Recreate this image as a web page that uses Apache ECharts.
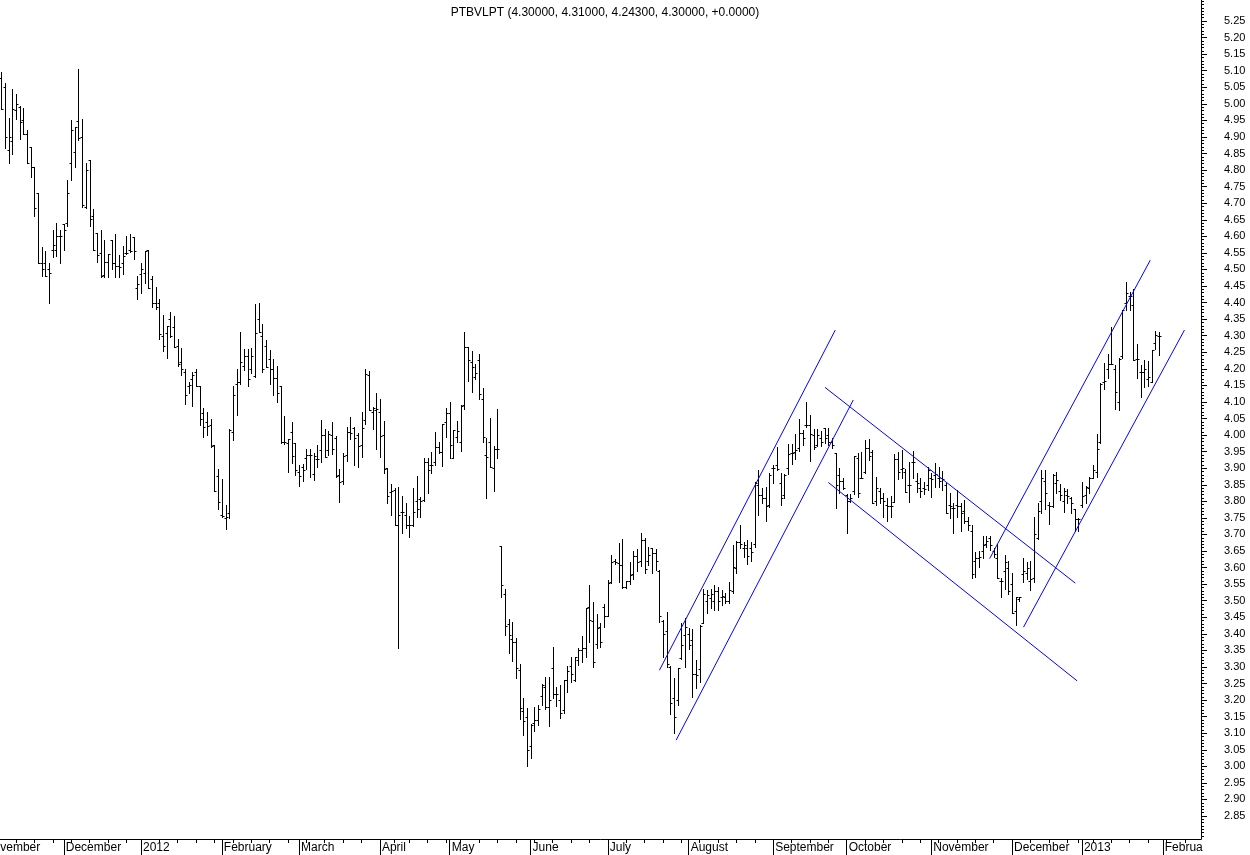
<!DOCTYPE html>
<html><head><meta charset="utf-8">
<script src="https://cdn.jsdelivr.net/npm/echarts@6.0.0/dist/echarts.min.js"></script>
<style>html,body{margin:0;padding:0;background:#fff}#c{width:1250px;height:855px}</style>
</head><body><div id="c"></div>
<script>
const chartTitle = 'PTBVLPT (4.30000, 4.31000, 4.24300, 4.30000, +0.0000)';
const firstDate = '2011-11-08';
const holidays = ['2011-12-26','2012-04-06','2012-04-09','2012-05-01','2012-12-25','2012-12-26','2013-01-01'];
const monthNames = ['January','February','March','April','May','June','July','August','September','October','November','December'];

const opens = [
5.077,5.05,4.86,4.888,4.98,4.99,4.95,4.91,4.87,4.81,
4.73,4.52,4.52,4.50,4.56,4.56,4.60,4.637,4.64,4.82,
4.855,4.948,4.90,4.69,4.83,4.66,4.61,4.55,4.483,4.523,
4.589,4.52,4.51,4.52,4.55,4.56,4.597,4.443,4.485,4.49,
4.56,4.47,4.40,4.40,4.30,4.307,4.35,4.325,4.27,4.22,
4.19,4.148,4.168,4.19,4.148,4.066,4.04,4.03,3.97,3.877,
3.76,3.75,3.766,4.01,4.155,4.16,4.21,4.24,4.20,4.178,
4.35,4.30,4.27,4.229,4.20,4.173,4.149,3.98,3.975,4.008,
3.975,3.89,3.905,3.93,3.94,3.881,3.928,3.955,4.0,3.955,
4.0,3.99,3.88,3.86,3.94,4.01,4.02,4.0,3.97,4.047,
4.18,4.07,4.076,4.07,4.0,3.9,3.827,3.834,3.73,3.767,
3.76,3.728,3.73,3.801,3.807,3.804,3.92,3.91,3.92,3.965,
3.95,4.04,4.066,3.93,3.995,3.978,4.09,4.267,4.22,4.175,
4.226,4.11,3.94,3.98,3.9,3.957,3.665,3.52,3.43,3.384,
3.374,3.29,3.168,3.15,3.06,3.13,3.14,3.212,3.24,3.18,
3.296,3.217,3.2,3.17,3.26,3.304,3.26,3.32,3.35,3.356,
3.48,3.44,3.37,3.42,3.48,3.454,3.555,3.62,3.615,3.608,
3.54,3.56,3.58,3.636,3.62,3.683,3.62,3.658,3.645,3.59,
3.44,3.41,3.30,3.205,3.2,3.326,3.395,3.40,3.38,3.28,
3.294,3.432,3.50,3.507,3.50,3.529,3.51,3.51,3.50,3.53,
3.60,3.678,3.66,3.66,3.66,3.67,3.85,3.82,3.81,3.79,
3.90,3.91,3.856,3.82,3.90,3.945,3.95,3.96,4.005,4.03,
4.03,4.0,3.97,3.99,4.02,4.0,3.98,3.945,3.88,3.86,
3.82,3.80,3.83,3.93,3.87,3.89,3.96,3.95,3.80,3.83,
3.81,3.79,3.785,3.799,3.927,3.898,3.89,3.85,3.92,3.86,
3.84,3.84,3.85,3.87,3.88,3.87,3.87,3.85,3.79,3.78,
3.79,3.787,3.77,3.74,3.71,3.62,3.63,3.65,3.67,3.69,
3.65,3.63,3.56,3.59,3.6,3.55,3.47,3.505,3.58,3.585,
3.56,3.568,3.69,3.80,3.86,3.79,3.785,3.855,3.83,3.80,
3.82,3.81,3.776,3.748,3.79,3.82,3.84,3.87,3.89,3.978,
4.16,4.2,4.216,4.2,4.1,4.24,4.40,4.42,4.392,4.23,
4.19,4.19,4.17,4.16,4.279,4.30];

const highs = [
5.097,5.064,4.956,5.044,5.03,4.993,4.987,4.92,4.87,4.81,
4.73,4.568,4.555,4.52,4.62,4.64,4.62,4.637,4.77,4.95,
4.93,5.105,4.953,4.82,4.83,4.683,4.61,4.62,4.59,4.547,
4.589,4.607,4.544,4.57,4.60,4.607,4.597,4.479,4.518,4.557,
4.56,4.48,4.446,4.41,4.363,4.33,4.373,4.36,4.29,4.262,
4.199,4.16,4.19,4.199,4.148,4.081,4.07,4.05,3.97,3.897,
3.868,3.79,4.018,4.149,4.20,4.31,4.26,4.26,4.262,4.396,
4.40,4.335,4.287,4.257,4.23,4.207,4.149,4.059,3.988,4.039,
3.975,3.91,3.912,3.957,3.957,3.945,3.97,4.045,4.017,4.012,
4.038,3.997,3.897,3.945,4.025,4.055,4.025,4.005,4.07,4.2,
4.194,4.086,4.126,4.109,4.042,3.9,3.851,3.839,3.844,3.816,
3.794,3.756,3.839,3.876,3.814,3.93,3.93,3.948,4.008,3.98,
4.033,4.083,4.099,4.015,4.042,4.092,4.31,4.267,4.254,4.216,
4.244,4.141,3.99,4.053,3.967,4.08,3.665,3.534,3.445,3.435,
3.386,3.309,3.205,3.175,3.127,3.18,3.185,3.25,3.271,3.271,
3.361,3.24,3.247,3.262,3.304,3.331,3.331,3.356,3.393,3.477,
3.547,3.495,3.46,3.434,3.489,3.563,3.638,3.627,3.673,3.686,
3.56,3.618,3.65,3.656,3.703,3.688,3.661,3.658,3.655,3.593,
3.442,3.465,3.303,3.266,3.296,3.432,3.447,3.417,3.414,3.321,
3.427,3.534,3.532,3.534,3.547,3.542,3.532,3.522,3.557,3.668,
3.681,3.73,3.678,3.683,3.676,3.859,3.894,3.839,3.842,3.884,
3.91,3.965,3.884,3.881,3.972,3.972,4.003,4.048,4.015,4.099,
4.06,4.017,4.017,4.012,4.022,4.022,3.99,3.947,3.90,3.869,
3.821,3.821,3.938,3.945,3.95,3.985,3.987,3.955,3.872,3.839,
3.824,3.811,3.817,3.943,3.95,3.955,3.898,3.92,3.952,3.886,
3.869,3.857,3.905,3.884,3.915,3.905,3.892,3.854,3.826,3.794,
3.834,3.794,3.804,3.754,3.728,3.648,3.65,3.696,3.696,3.696,
3.658,3.671,3.568,3.638,3.62,3.585,3.512,3.512,3.63,3.618,
3.621,3.754,3.794,3.894,3.894,3.799,3.882,3.889,3.851,3.839,
3.836,3.814,3.776,3.749,3.857,3.846,3.874,3.909,4.003,4.158,
4.218,4.246,4.325,4.213,4.234,4.379,4.461,4.433,4.441,4.274,
4.211,4.228,4.223,4.258,4.315,4.31];

const lows = [
4.983,4.866,4.822,4.85,4.955,4.893,4.91,4.82,4.78,4.66,
4.52,4.48,4.48,4.40,4.538,4.54,4.52,4.56,4.632,4.77,
4.81,4.89,4.69,4.686,4.63,4.56,4.523,4.478,4.478,4.478,
4.50,4.478,4.478,4.485,4.546,4.554,4.532,4.41,4.43,4.46,
4.443,4.386,4.38,4.29,4.255,4.232,4.295,4.265,4.21,4.18,
4.093,4.126,4.089,4.148,4.03,3.993,4.0,3.965,3.83,3.776,
3.752,3.716,3.749,3.985,4.06,4.154,4.195,4.149,4.186,4.176,
4.31,4.19,4.205,4.154,4.12,4.101,3.977,3.973,3.89,3.915,
3.878,3.847,3.862,3.899,3.873,3.864,3.903,3.918,3.933,3.94,
3.943,3.872,3.797,3.851,3.923,3.987,3.91,3.905,3.935,4.033,
4.076,4.018,3.959,3.935,3.884,3.794,3.759,3.73,3.358,3.703,
3.718,3.691,3.727,3.752,3.754,3.80,3.824,3.886,3.91,3.947,
3.908,3.995,3.932,3.93,3.978,3.953,4.08,4.164,4.13,4.169,
4.11,3.98,3.81,3.904,3.832,3.93,3.51,3.396,3.341,3.319,
3.268,3.142,3.095,3.001,3.024,3.108,3.125,3.185,3.173,3.123,
3.205,3.183,3.145,3.16,3.223,3.255,3.257,3.306,3.316,3.331,
3.376,3.299,3.356,3.359,3.42,3.454,3.553,3.61,3.555,3.537,
3.537,3.55,3.565,3.591,3.605,3.583,3.608,3.583,3.593,3.437,
3.331,3.301,3.158,3.10,3.185,3.323,3.299,3.353,3.208,3.236,
3.256,3.432,3.462,3.477,3.472,3.472,3.487,3.492,3.494,3.522,
3.585,3.66,3.633,3.611,3.621,3.663,3.759,3.794,3.742,3.784,
3.854,3.895,3.789,3.809,3.882,3.913,3.928,3.953,3.97,4.023,
3.923,3.957,3.967,3.968,3.975,3.97,3.96,3.779,3.824,3.836,
3.703,3.799,3.822,3.814,3.869,3.885,3.925,3.794,3.789,3.794,
3.754,3.741,3.754,3.798,3.866,3.869,3.827,3.799,3.869,3.829,
3.814,3.822,3.834,3.812,3.844,3.844,3.834,3.766,3.751,3.705,
3.754,3.711,3.736,3.713,3.57,3.573,3.603,3.628,3.663,3.653,
3.633,3.568,3.512,3.534,3.52,3.464,3.427,3.499,3.557,3.565,
3.532,3.555,3.685,3.764,3.776,3.733,3.782,3.824,3.804,3.769,
3.794,3.766,3.71,3.711,3.782,3.794,3.826,3.869,3.874,3.975,
4.138,4.171,4.216,4.08,4.077,4.233,4.377,4.379,4.228,4.171,
4.116,4.146,4.148,4.161,4.26,4.243];

const closes = [
4.983,4.90,4.90,4.983,5.00,4.945,4.91,4.82,4.81,4.686,
4.52,4.50,4.48,4.49,4.575,4.60,4.60,4.62,4.73,4.92,
4.93,4.898,4.694,4.80,4.652,4.56,4.543,4.48,4.523,4.546,
4.52,4.51,4.506,4.54,4.55,4.557,4.556,4.457,4.50,4.557,
4.443,4.40,4.388,4.305,4.27,4.33,4.30,4.267,4.215,4.20,
4.121,4.15,4.18,4.148,4.048,4.025,4.028,3.968,3.83,3.799,
3.757,3.754,4.016,4.121,4.16,4.22,4.24,4.168,4.24,4.307,
4.31,4.20,4.205,4.20,4.173,4.126,3.98,3.98,3.988,3.937,
3.895,3.877,3.895,3.94,3.94,3.937,3.928,4.0,3.935,4.002,
3.957,3.876,3.857,3.938,4.008,4.005,3.99,3.968,4.02,4.184,
4.076,4.083,4.078,3.997,3.897,3.816,3.831,3.73,3.759,3.767,
3.728,3.728,3.767,3.776,3.80,3.918,3.895,3.91,3.965,3.948,
4.033,4.066,3.97,4.015,4.013,4.088,4.267,4.226,4.204,4.188,
4.124,3.995,3.935,3.904,3.957,3.957,3.547,3.424,3.396,3.374,
3.296,3.177,3.137,3.05,3.125,3.14,3.173,3.245,3.18,3.2,
3.217,3.217,3.16,3.262,3.288,3.28,3.33,3.351,3.356,3.477,
3.442,3.314,3.417,3.374,3.454,3.553,3.618,3.616,3.608,3.54,
3.56,3.578,3.636,3.618,3.683,3.597,3.638,3.643,3.62,3.454,
3.399,3.31,3.19,3.15,3.296,3.366,3.42,3.366,3.279,3.276,
3.424,3.52,3.517,3.52,3.529,3.50,3.514,3.50,3.532,3.601,
3.678,3.67,3.668,3.636,3.648,3.855,3.819,3.81,3.786,3.88,
3.90,3.898,3.811,3.88,3.942,3.945,3.955,4.005,3.99,4.03,
4.003,3.965,4.0,3.98,3.99,3.98,3.97,3.85,3.862,3.84,
3.80,3.81,3.938,3.826,3.87,3.96,3.937,3.794,3.84,3.81,
3.80,3.785,3.785,3.927,3.89,3.90,3.829,3.85,3.92,3.855,
3.83,3.838,3.895,3.868,3.882,3.86,3.868,3.766,3.785,3.779,
3.787,3.764,3.74,3.728,3.58,3.63,3.633,3.668,3.681,3.668,
3.64,3.568,3.558,3.618,3.53,3.464,3.512,3.51,3.59,3.60,
3.564,3.70,3.77,3.87,3.826,3.785,3.878,3.864,3.82,3.832,
3.815,3.796,3.748,3.746,3.816,3.844,3.869,3.894,3.958,4.153,
4.163,4.216,4.216,4.129,4.231,4.379,4.428,4.42,4.228,4.231,
4.19,4.2,4.176,4.258,4.302,4.30];

// channel lines: [tradingDayIndex, price] endpoints
const channelUp1a = [[179.05, 3.29], [226.9, 4.317]];
const channelUp1b = [[183.6, 3.079], [231.8, 4.106]];
const channelDown1 = [[224.1, 4.144], [292.2, 3.553]];
const channelDown2 = [[225.0, 3.857], [292.7, 3.258]];
const channelUp2a = [[268.9, 3.627], [312.6, 4.528]];
const channelUp2b = [[278.1, 3.42], [321.9, 4.317]];

const yTickLabels = ['2.85','2.90','2.95','3.00','3.05','3.10','3.15','3.20','3.25','3.30','3.35','3.40','3.45','3.50','3.55','3.60','3.65','3.70','3.75','3.80','3.85','3.90','3.95','4.00','4.05','4.10','4.15','4.20','4.25','4.30','4.35','4.40','4.45','4.50','4.55','4.60','4.65','4.70','4.75','4.80','4.85','4.90','4.95','5.00','5.05','5.10','5.15','5.20','5.25'];

// ---- trading calendar (categories) ----
function ymd(d){return d.toISOString().slice(0,10);}
const days = [];
for (let t = Date.UTC(2011,10,1); t <= Date.UTC(2013,1,28); t += 86400000) {
  const d = new Date(t), wd = d.getUTCDay(), s = ymd(d);
  if (wd !== 0 && wd !== 6 && holidays.indexOf(s) < 0) days.push(s);
}
const base = days.indexOf(firstDate);

const xMin = -5, xMax = 326.4;
const plotRight = 1201;
const pxPerDay = 3.6756;
const gridLeft = 1.3 + xMin * pxPerDay;

const monthStarts = [], monthLabel = {}, weekTicks = [];
for (let k = 0; k < days.length; k++) {
  const x = k - base;
  if (x < xMin || x > xMax) continue;
  const s = days[k];
  const prev = k > 0 ? days[k-1] : null;
  if (!prev || prev.slice(5,7) !== s.slice(5,7)) {
    monthStarts.push(x);
    const m = +s.slice(5,7) - 1;
    monthLabel[x] = m === 0 ? s.slice(0,4) : monthNames[m];
  } else {
    const d = new Date(s + 'T00:00:00Z');
    const pd = new Date(prev + 'T00:00:00Z');
    if (d.getUTCDay() < pd.getUTCDay() || (d - pd) > 3 * 86400000) weekTicks.push(x);
  }
}

const ctx = document.createElement('canvas').getContext('2d');
ctx.font = '12px "Liberation Sans"';
function fitLabel(x, text) {
  const px = gridLeft + (x - xMin) * pxPerDay + 2;
  let t = text;
  while (t.length && px + ctx.measureText(t).width > plotRight + 3) t = t.slice(0, -1);
  return t;
}

const ohlc = opens.map((o, i) => [i, o, highs[i], lows[i], closes[i]]);
const yMajor = yTickLabels.map(Number);
const yMinor = [];
for (let v = 279; v <= 531; v++) yMinor.push(v / 100);

const chart = echarts.init(document.getElementById('c'), null, {renderer: 'canvas'});
const FONT = 'Liberation Sans';
const yMin = 2.7806, yMax = 5.3134;
const gridBox = {left: gridLeft, right: 1250 - plotRight, top: 0, bottom: 16, containLabel: false, outerBoundsMode: 'none'};
const lineSeries = (data) => ({
  type: 'line', data, xAxisIndex: 0, yAxisIndex: 0, symbol: 'none', silent: true,
  lineStyle: {color: '#0000ff', width: 1}, animation: false, z: 3
});

chart.setOption({
  animation: false,
  backgroundColor: '#ffffff',
  title: {
    text: chartTitle, left: 600, top: 2, textAlign: 'center',
    textStyle: {fontFamily: FONT, fontSize: 12, fontWeight: 'normal', color: '#000'}
  },
  grid: [Object.assign({}, gridBox), Object.assign({}, gridBox)],
  xAxis: [{
    gridIndex: 0, type: 'value', min: xMin, max: xMax, position: 'bottom',
    axisLine: {show: true, onZero: false, lineStyle: {color: '#000', width: 1}},
    axisTick: {show: true, length: 4, customValues: weekTicks, lineStyle: {color: '#000'}},
    axisLabel: {
      customValues: monthStarts, align: 'left', margin: 3, padding: [0, 0, 0, 2],
      color: '#000', fontFamily: FONT, fontSize: 12,
      formatter: v => fitLabel(v, monthLabel[Math.round(v)] || '')
    },
    splitLine: {show: false}
  }, {
    gridIndex: 1, type: 'value', min: xMin, max: xMax, position: 'bottom',
    axisLine: {show: false, onZero: false},
    axisTick: {show: true, length: 17, customValues: monthStarts, lineStyle: {color: '#000'}},
    axisLabel: {show: false}, splitLine: {show: false}
  }],
  yAxis: [{
    gridIndex: 0, type: 'value', position: 'right', min: yMin, max: yMax,
    axisLine: {show: true, onZero: false, lineStyle: {color: '#000'}},
    axisTick: {show: true, length: 6, customValues: yMajor, lineStyle: {color: '#000'}},
    axisLabel: {customValues: yMajor, margin: 23, color: '#000', fontFamily: FONT, fontSize: 11,
      formatter: v => v.toFixed(2)},
    splitLine: {show: false}
  }, {
    gridIndex: 1, type: 'value', position: 'right', min: yMin, max: yMax,
    axisLine: {show: false, onZero: false},
    axisTick: {show: true, length: 3, customValues: yMinor, lineStyle: {color: '#000'}},
    axisLabel: {show: false}, splitLine: {show: false}
  }],
  series: [{
    type: 'custom', xAxisIndex: 0, yAxisIndex: 0, data: ohlc, silent: true, z: 2,
    encode: {x: 0, y: [1, 2, 3, 4]},
    renderItem: function (params, api) {
      const i = api.value(0);
      const o = api.coord([i, api.value(1)]);
      const h = api.coord([i, api.value(2)]);
      const l = api.coord([i, api.value(3)]);
      const c = api.coord([i, api.value(4)]);
      const x = Math.round(h[0]) + 0.5;
      const st = {stroke: '#000', lineWidth: 1};
      const yo = Math.round(o[1]) + 0.5, yc = Math.round(c[1]) + 0.5;
      return {type: 'group', children: [
        {type: 'line', shape: {x1: x, y1: Math.round(h[1]), x2: x, y2: Math.round(l[1]) + 1}, style: st},
        {type: 'line', shape: {x1: x - 2, y1: yo, x2: x, y2: yo}, style: st},
        {type: 'line', shape: {x1: x, y1: yc, x2: x + 2, y2: yc}, style: st}
      ]};
    }
  },
  lineSeries(channelUp1a), lineSeries(channelUp1b),
  lineSeries(channelDown1), lineSeries(channelDown2),
  lineSeries(channelUp2a), lineSeries(channelUp2b)]
});
</script>
</body></html>
